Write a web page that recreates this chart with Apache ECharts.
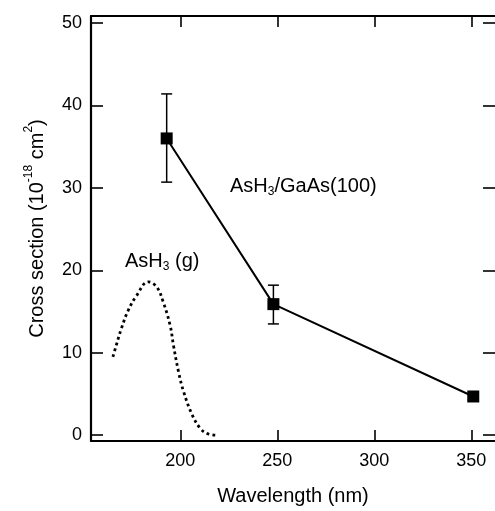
<!DOCTYPE html>
<html>
<head>
<meta charset="utf-8">
<script src="https://cdn.jsdelivr.net/npm/echarts@6/dist/echarts.min.js"></script>
<style>
  html, body { margin: 0; padding: 0; background: #fff; }
  #chart { width: 495px; height: 511px; }
</style>
</head>
<body>
<div id="chart"></div>
<script>
// measured points: AsH3 on GaAs(100)
const wavelengths = [193, 248, 351];
const crossSections = [36.0, 15.9, 4.7];
const errLow = [30.7, 13.5, 4.3];
const errHigh = [41.4, 18.2, 5.1];

// gas phase AsH3 absorption (dotted curve)
const gasWavelengths = [165.3, 167.0, 169.6, 173.1, 177.4, 183.5, 187.8, 191.3, 194.8, 196.5, 199.1, 201.7, 206.1, 210.4, 213.9, 218.5];
const gasCross = [9.5, 10.9, 12.9, 15.1, 16.9, 18.6, 18.0, 16.1, 13.3, 10.9, 7.7, 5.3, 2.5, 0.8, 0.2, 0.0];

const xTicks = [200, 250, 300, 350];
const yTicks = [0, 10, 20, 30, 40, 50];

const font = 'Liberation Sans, Arial, sans-serif';
const ink = '#000';

const chart = echarts.init(document.getElementById('chart'));

function axisX(pos, showLabel) {
    return {
        type: 'value', position: pos, min: 154, max: 362.2,
        axisLine: { show: true, onZero: false, lineStyle: { color: ink, width: 2.2 } },
        axisTick: { show: true, inside: true, length: 11, customValues: xTicks, lineStyle: { color: ink, width: 1.6 } },
        axisLabel: { show: showLabel, customValues: xTicks, margin: 11, fontSize: 18, color: ink, fontFamily: font },
        splitLine: { show: false }
    };
}
function axisY(pos, showLabel) {
    return {
        type: 'value', position: pos, min: -0.7, max: 50.85,
        axisLine: { show: showLabel, onZero: false, lineStyle: { color: ink, width: 2.2 } },
        axisTick: { show: true, inside: true, length: 12, customValues: yTicks, lineStyle: { color: ink, width: 1.6 } },
        axisLabel: { show: showLabel, customValues: yTicks, margin: 9, fontSize: 18, color: ink, fontFamily: font },
        splitLine: { show: false }
    };
}

const xBottom = axisX('bottom', true);
xBottom.name = 'Wavelength (nm)';
xBottom.nameLocation = 'middle';
xBottom.nameGap = 45;
xBottom.nameTextStyle = { fontSize: 20, color: ink, fontFamily: font };

const yLeft = axisY('left', true);
yLeft.name = '{t|Cross section (10}{sup|-18}{t| cm}{sup|2}{t|)}';
yLeft.nameLocation = 'middle';
yLeft.nameGap = 40;
yLeft.nameTextStyle = {
    color: ink, fontFamily: font,
    rich: {
        t: { fontSize: 20, lineHeight: 28, color: ink, fontFamily: font },
        sup: { fontSize: 12, lineHeight: 12, verticalAlign: 'top', color: ink, fontFamily: font }
    }
};

const option = {
    animation: false,
    backgroundColor: '#fff',
    grid: { left: 91, top: 16, right: 0, height: 427, containLabel: false },
    xAxis: [xBottom, axisX('top', false)],
    yAxis: [yLeft, axisY('right', false)],
    series: [
        {
            type: 'line',
            data: wavelengths.map((w, i) => [w, crossSections[i]]),
            symbol: 'rect', symbolSize: 12,
            itemStyle: { color: ink },
            lineStyle: { color: ink, width: 2 },
            z: 3
        },
        {
            type: 'custom',
            data: wavelengths.map((w, i) => [w, errLow[i], errHigh[i]]),
            renderItem: function (params, api) {
                const lo = api.coord([api.value(0), api.value(1)]);
                const hi = api.coord([api.value(0), api.value(2)]);
                const hw = 5.5;
                const st = { stroke: ink, lineWidth: 1.5 };
                return {
                    type: 'group',
                    children: [
                        { type: 'line', shape: { x1: lo[0], y1: lo[1], x2: hi[0], y2: hi[1] }, style: st },
                        { type: 'line', shape: { x1: lo[0] - hw, y1: lo[1], x2: lo[0] + hw, y2: lo[1] }, style: st },
                        { type: 'line', shape: { x1: hi[0] - hw, y1: hi[1], x2: hi[0] + hw, y2: hi[1] }, style: st }
                    ]
                };
            },
            z: 2
        },
        {
            type: 'line',
            data: gasWavelengths.map((w, i) => [w, gasCross[i]]),
            smooth: 0.4,
            showSymbol: false,
            lineStyle: { color: ink, width: 2.8, type: [2.8, 3.2] }
        }
    ],
    graphic: [
        {
            type: 'text', left: 230, top: 176,
            style: {
                text: '{t|AsH}{sub|3}{t|/GaAs(100)}',
                rich: {
                    t: { fontSize: 20, lineHeight: 24, fill: ink, fontFamily: font },
                    sub: { fontSize: 12, lineHeight: 12, verticalAlign: 'bottom', fill: ink, fontFamily: font }
                }
            }
        },
        {
            type: 'text', left: 125, top: 251,
            style: {
                text: '{t|AsH}{sub|3}{t| (g)}',
                rich: {
                    t: { fontSize: 20, lineHeight: 24, fill: ink, fontFamily: font },
                    sub: { fontSize: 12, lineHeight: 12, verticalAlign: 'bottom', fill: ink, fontFamily: font }
                }
            }
        }
    ]
};

chart.setOption(option);
</script>
</body>
</html>
